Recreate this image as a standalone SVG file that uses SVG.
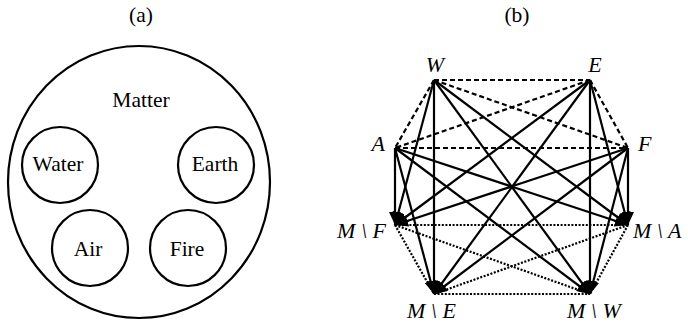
<svg xmlns="http://www.w3.org/2000/svg" width="688" height="326" viewBox="0 0 688 326">
<style>
.c{fill:none;stroke:#000;stroke-width:2.2}
.t{font-family:"Liberation Serif","Times New Roman",serif;font-size:21.5px;fill:#000;text-anchor:middle}
.m{font-family:"Liberation Serif","Times New Roman",serif;font-size:22px;font-style:italic;fill:#000}
.s{stroke:#000;stroke-width:2.2;fill:none}
.d{stroke:#000;stroke-width:2.2;fill:none;stroke-dasharray:5,3}
.o{stroke:#000;stroke-width:2.2;fill:none;stroke-dasharray:2,1.6}
</style>
<defs>
<marker id="ah" markerUnits="userSpaceOnUse" markerWidth="14" markerHeight="12" refX="13" refY="6" orient="auto">
<path d="M0,0 L13,6 L0,12 z" fill="#000"/>
</marker>
</defs>
<rect width="688" height="326" fill="#fff"/>
<text class="t" x="141" y="22">(a)</text>
<text class="t" x="517" y="22">(b)</text>
<g id="matter">
<ellipse class="c" cx="139" cy="182" rx="131" ry="136"/>
<text class="t" x="141" y="107">Matter</text>
</g>
<g id="water">
<circle class="c" cx="60" cy="165" r="38"/>
<text class="t" x="58" y="171">Water</text>
</g>
<g id="earth">
<circle class="c" cx="216" cy="165" r="38"/>
<text class="t" x="215" y="171">Earth</text>
</g>
<g id="air">
<circle class="c" cx="90" cy="248" r="38"/>
<text class="t" x="88" y="256">Air</text>
</g>
<g id="fire">
<circle class="c" cx="188" cy="248" r="38"/>
<text class="t" x="187" y="256">Fire</text>
</g>
<g id="connectors">
<line class="d" x1="434" y1="80" x2="590" y2="80"/>
<line class="d" x1="434" y1="80" x2="395" y2="148"/>
<line class="d" x1="434" y1="80" x2="628" y2="148"/>
<line class="d" x1="590" y1="80" x2="395" y2="148"/>
<line class="d" x1="590" y1="80" x2="628" y2="148"/>
<line class="d" x1="395" y1="148" x2="628" y2="148"/>
<line class="o" x1="395" y1="225" x2="628" y2="225"/>
<line class="o" x1="395" y1="225" x2="434" y2="294"/>
<line class="o" x1="395" y1="225" x2="590" y2="294"/>
<line class="o" x1="628" y1="225" x2="434" y2="294"/>
<line class="o" x1="628" y1="225" x2="590" y2="294"/>
<line class="o" x1="434" y1="294" x2="590" y2="294"/>
<g marker-end="url(#ah)">
<line class="s" x1="434" y1="80" x2="395" y2="225"/>
<line class="s" x1="434" y1="80" x2="628" y2="225"/>
<line class="s" x1="434" y1="80" x2="434" y2="294"/>
<line class="s" x1="434" y1="80" x2="590" y2="294"/>
<line class="s" x1="590" y1="80" x2="395" y2="225"/>
<line class="s" x1="590" y1="80" x2="628" y2="225"/>
<line class="s" x1="590" y1="80" x2="434" y2="294"/>
<line class="s" x1="590" y1="80" x2="590" y2="294"/>
<line class="s" x1="395" y1="148" x2="395" y2="225"/>
<line class="s" x1="395" y1="148" x2="628" y2="225"/>
<line class="s" x1="395" y1="148" x2="434" y2="294"/>
<line class="s" x1="395" y1="148" x2="590" y2="294"/>
<line class="s" x1="628" y1="148" x2="395" y2="225"/>
<line class="s" x1="628" y1="148" x2="628" y2="225"/>
<line class="s" x1="628" y1="148" x2="434" y2="294"/>
<line class="s" x1="628" y1="148" x2="590" y2="294"/>
</g>
</g>
<g id="W"><text class="m" x="435" y="72" text-anchor="middle">W</text></g>
<g id="E"><text class="m" x="595" y="72" text-anchor="middle">E</text></g>
<g id="A"><text class="m" x="385" y="151" text-anchor="end">A</text></g>
<g id="F"><text class="m" x="638" y="151">F</text></g>
<g id="MF"><text class="m" x="386" y="238" text-anchor="end">M \ F</text></g>
<g id="MA"><text class="m" x="633" y="238">M \ A</text></g>
<g id="ME"><text class="m" x="407" y="318">M \ E</text></g>
<g id="MW"><text class="m" x="567" y="318">M \ W</text></g>
</svg>
